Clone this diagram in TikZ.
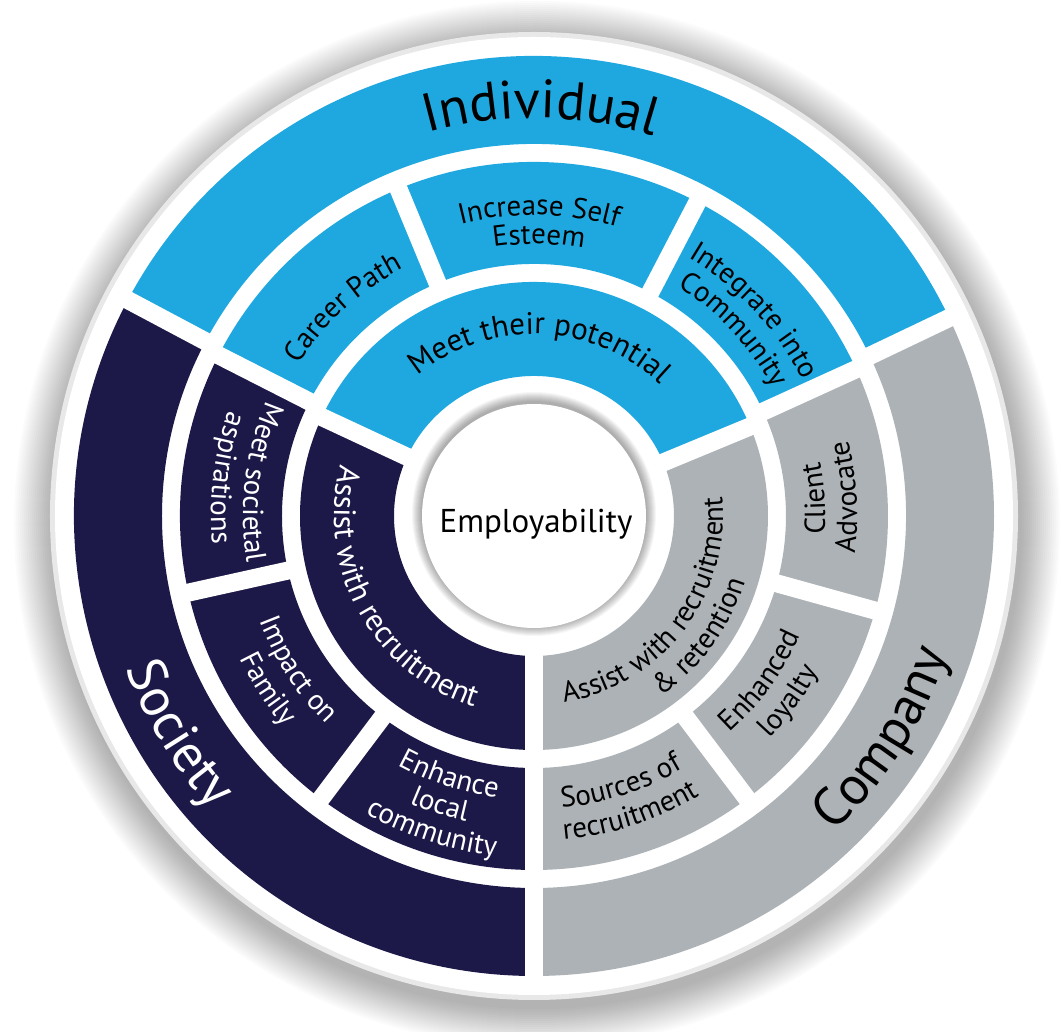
\documentclass[tikz,border=0pt]{standalone}
\usepackage{fontspec}
\setmainfont{PT Sans}
\usetikzlibrary{decorations.text}
\definecolor{indblue}{HTML}{1FA8DF}
\definecolor{socnavy}{HTML}{1C1948}
\definecolor{compgrey}{HTML}{ADB2B6}
\definecolor{rimgrey}{HTML}{E8E8E8}
% annular sector: start angle, end angle, outer r, inner r, colour
\newcommand{\ringsector}[5]{%
  \fill[#5] (#1:#3) arc[start angle=#1, end angle=#2, radius=#3]
    -- (#2:#4) arc[start angle=#2, end angle=#1, radius=#4] -- cycle;}
% text on a clockwise arc (letters point outwards): r, centre angle, size, colour, text
\newcommand{\cwlabel}[5]{%
  \path[decorate, decoration={text along path, text align=center,
     text={|\fontsize{#3}{#3}\selectfont\color{#4}|{\hphantom{l}}#5{\hphantom{l}}}}]
     (#2+70:#1) arc[start angle=#2+70, end angle=#2-70, radius=#1];}
% text on a counter-clockwise arc (letters point inwards)
\newcommand{\ccwlabel}[5]{%
  \path[decorate, decoration={text along path, text align=center,
     text={|\fontsize{#3}{#3}\selectfont\color{#4}|{\hphantom{l}}#5{\hphantom{l}}}}]
     (#2-70:#1) arc[start angle=#2-70, end angle=#2+70, radius=#1];}
\begin{document}
\begin{tikzpicture}[x=1pt,y=1pt,
  gap/.style={white, line width=18pt}]
\useasboundingbox[fill=white] (-534,-516) rectangle (529,516);

% drop shadow of the disc
\foreach \k [evaluate=\k as \rr using 485+2*\k] in {0,...,19}
  \fill[black, opacity=0.016] (3,-8) circle[radius=\rr];
\fill[rimgrey] (0,0) circle[radius=484];
\fill[white] (0,0) circle[radius=479];

% outer ring
\ringsector{25.5}{152}{460}{372}{indblue}
\ringsector{152}{270}{460}{372}{socnavy}
\ringsector{-90}{25.5}{460}{372}{compgrey}
% middle ring
\ringsector{24.5}{153}{354}{252}{indblue}
\ringsector{153}{270}{354}{252}{socnavy}
\ringsector{-90}{24.5}{354}{252}{compgrey}
% inner ring
\ringsector{22.5}{155}{234}{140}{indblue}
\ringsector{155}{270}{234}{140}{socnavy}
\ringsector{-90}{22.5}{234}{140}{compgrey}

% dividers
\foreach \a in {25.5,152,270} \draw[gap] (\a:366) -- (\a:466);
\foreach \a in {24.5,62.5,112.5,153,192.5,233,270,307,344.5} \draw[gap] (\a:246) -- (\a:360);
\foreach \a in {22.5,155,270} \draw[gap] (\a:137) -- (\a:240);

% centre circle with soft shadow
\foreach \k [evaluate=\k as \rr using 112+\k] in {1,...,10}
  \fill[black, opacity=0.035] (0,2) circle[radius=\rr];
\fill[white] (0,0) circle[radius=112];
\node[font=\fontsize{33}{33}\selectfont, anchor=base] (emp) at (2,-17) {Employability};

% outer ring labels
\cwlabel{398}{89}{54}{black}{Individual}
\ccwlabel{436}{211.5}{54}{white}{Society}
\ccwlabel{436}{327.5}{54}{black}{Company}

% inner ring labels
\cwlabel{182}{88}{31}{black}{Meet their potential}
\ccwlabel{200}{209}{31}{white}{Assist with recruitment}
\ccwlabel{189}{322.5}{29}{black}{Assist with recruitment}
\ccwlabel{221}{324}{29}{black}{{\&} retention}

% middle ring labels
\cwlabel{280}{132.5}{29}{black}{Career Path}
\cwlabel{301}{89}{29}{black}{Increase Self}
\cwlabel{272}{89}{29}{black}{Esteem}
\cwlabel{301}{43}{29}{black}{Integrate into}
\cwlabel{271}{43}{29}{black}{Community}

\ccwlabel{291}{173}{29}{white}{Meet societal}
\ccwlabel{323}{173}{29}{white}{aspirations}
\ccwlabel{294}{213}{29}{white}{Impact on}
\ccwlabel{327}{213}{29}{white}{Family}
\ccwlabel{284}{252}{29}{white}{Enhance}
\ccwlabel{313}{252}{29}{white}{local}
\ccwlabel{342}{252}{29}{white}{community}

\ccwlabel{293}{288}{29}{black}{Sources of}
\ccwlabel{325}{288}{29}{black}{recruitment}
\ccwlabel{292}{324}{29}{black}{Enhanced}
\ccwlabel{324}{324}{29}{black}{loyalty}
\ccwlabel{291}{3.5}{29}{black}{Client}
\ccwlabel{323}{3.5}{29}{black}{Advocate}
\end{tikzpicture}
\end{document}
